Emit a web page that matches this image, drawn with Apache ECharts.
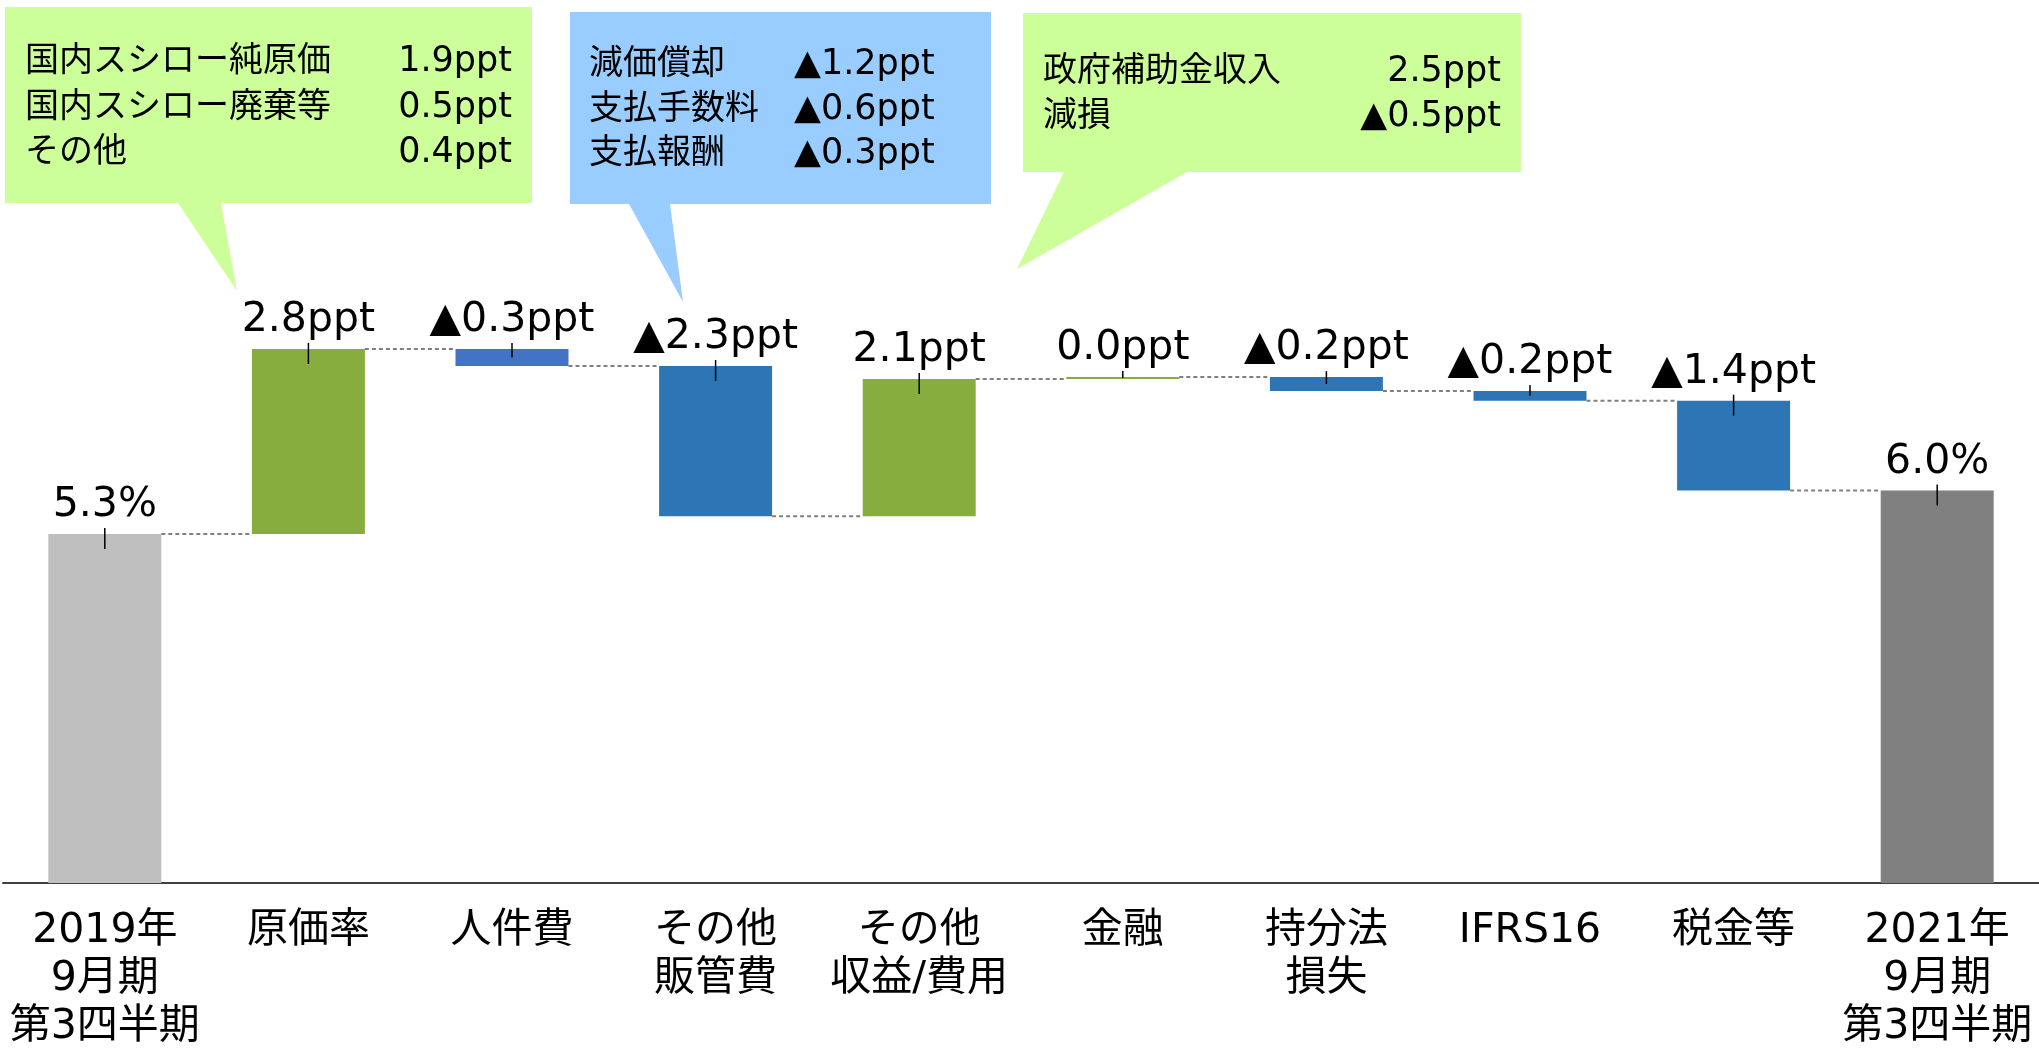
<!DOCTYPE html>
<html>
<head>
<meta charset="utf-8">
<script src="https://cdn.jsdelivr.net/npm/echarts@6.0.0/dist/echarts.min.js"></script>
<style>
    html, body { margin: 0; padding: 0; background: #ffffff; }
    #waterfall-chart { width: 2039px; height: 1051px; }
</style>
</head>
<body>
<div id="waterfall-chart"></div>
<script>
// Categories (x axis)
var categories = [
    '2019年\n9月期\n第3四半期', '原価率', '人件費', 'その他\n販管費', 'その他\n収益/費用',
    '金融', '持分法\n損失', 'IFRS16', '税金等', '2021年\n9月期\n第3四半期'
];

// Start / end totals and the steps in between (ppt)
var startValue = 5.32;
var deltas = [2.82, -0.26, -2.29, 2.09, 0.03, -0.21, -0.15, -1.37];
var endValue = 5.98;

// Labels printed above the bars
var valueLabels = ['5.3%', '2.8ppt', '▲0.3ppt', '▲2.3ppt', '2.1ppt', '0.0ppt', '▲0.2ppt', '▲0.2ppt', '▲1.4ppt', '6.0%'];

// Bar colours
var barColors = ['#bfbfbf', '#87ad3f', '#4472c4', '#2e75b6', '#87ad3f', '#87ad3f', '#2e75b6', '#2e75b6', '#2e75b6', '#808080'];

// Callout texts
var calloutCost = [['国内スシロー純原価', '1.9ppt'], ['国内スシロー廃棄等', '0.5ppt'], ['その他', '0.4ppt']];
var calloutSga = [['減価償却', '▲1.2ppt'], ['支払手数料', '▲0.6ppt'], ['支払報酬', '▲0.3ppt']];
var calloutOther = [['政府補助金収入', '2.5ppt'], ['減損', '▲0.5ppt']];

var FONT = '"DejaVu Sans", "Noto Sans CJK JP", sans-serif';
var BAR_RATIO = 0.555;

// Build the invisible base + visible part of each bar
var baseData = [];
var barData = [];
var levels = []; // running level after each bar
var running = startValue;
baseData.push(0);
barData.push({ value: startValue, itemStyle: { color: barColors[0] } });
levels.push(startValue);
deltas.forEach(function (d, i) {
    var before = running;
    running = running + d;
    baseData.push(Math.min(before, running));
    barData.push({ value: Math.abs(d), itemStyle: { color: barColors[i + 1] } });
    levels.push(running);
});
baseData.push(0);
barData.push({ value: endValue, itemStyle: { color: barColors[9] } });
levels.push(endValue);

// connectors: from bar i to bar i+1 at the level after bar i
var connectorData = [];
for (var i = 0; i < categories.length - 1; i++) {
    connectorData.push([i, levels[i]]);
}

// leader ticks: [index, top, bottom]
var tickData = baseData.map(function (b, i) {
    return [i, b + barData[i].value, b];
});

// Callout shapes + text
function callout(points, fill, lines, textX, valueX, valueAlign, lineY) {
    var els = [{
        type: 'polygon',
        shape: { points: points },
        style: { fill: fill },
        silent: true
    }];
    lines.forEach(function (ln, k) {
        els.push({
            type: 'text', x: textX, y: lineY[k], silent: true,
            style: { text: ln[0], font: '34px ' + FONT, fill: '#000', textAlign: 'left', textVerticalAlign: 'middle' }
        });
        els.push({
            type: 'text', x: valueX, y: lineY[k], silent: true,
            style: { text: ln[1], font: '35px ' + FONT, fill: '#000', textAlign: valueAlign, textVerticalAlign: 'middle' }
        });
    });
    return els;
}

var graphics = []
    .concat(callout([[5, 7], [532, 7], [532, 203], [221, 203], [237, 291], [178, 203], [5, 203]],
        '#ccff99', calloutCost, 25, 512, 'right', [62, 108, 153]))
    .concat(callout([[570, 12], [991, 12], [991, 204], [670, 204], [683, 302], [629, 204], [570, 204]],
        '#99ccff', calloutSga, 589, 794, 'left', [65, 110, 154]))
    .concat(callout([[1023, 13], [1521, 13], [1521, 172], [1187, 172], [1017, 269], [1064, 172], [1023, 172]],
        '#ccff99', calloutOther, 1043, 1501, 'right', [72, 117]));

var chart = echarts.init(document.getElementById('waterfall-chart'));

var option = {
    backgroundColor: '#ffffff',
    animation: false,
    textStyle: { fontFamily: FONT },
    grid: { left: 3, right: 0, top: 30, bottom: 168 },
    xAxis: {
        type: 'category',
        data: categories,
        axisLine: { lineStyle: { color: '#404040', width: 2 } },
        axisTick: { show: false },
        axisLabel: {
            interval: 0,
            margin: 24,
            fontSize: 41,
            lineHeight: 48,
            color: '#000',
            fontFamily: FONT,
            align: 'center'
        }
    },
    yAxis: {
        type: 'value',
        min: 0,
        max: 13,
        show: false,
        splitLine: { show: false }
    },
    graphic: graphics,
    series: [
        {
            name: 'base',
            type: 'bar',
            stack: 'wf',
            barWidth: (BAR_RATIO * 100) + '%',
            itemStyle: { color: 'transparent' },
            silent: true,
            data: baseData
        },
        {
            name: 'value',
            type: 'bar',
            stack: 'wf',
            barWidth: (BAR_RATIO * 100) + '%',
            data: barData,
            label: {
                show: true,
                position: 'top',
                distance: 8,
                fontSize: 41,
                color: '#000',
                fontFamily: FONT,
                formatter: function (p) {
                    return valueLabels[p.dataIndex];
                }
            }
        },
        {
            name: 'connectors',
            type: 'custom',
            silent: true,
            z: 5,
            data: connectorData,
            renderItem: function (params, api) {
                var p0 = api.coord([api.value(0), api.value(1)]);
                var p1 = api.coord([api.value(0) + 1, api.value(1)]);
                var half = api.size([1, 0])[0] * BAR_RATIO / 2;
                return {
                    type: 'line',
                    shape: { x1: p0[0] + half, y1: p0[1], x2: p1[0] - half, y2: p1[1] },
                    style: { stroke: '#808080', lineWidth: 2, lineDash: [4, 3] }
                };
            }
        },
        {
            name: 'ticks',
            type: 'custom',
            silent: true,
            z: 10,
            clip: false,
            data: tickData,
            renderItem: function (params, api) {
                var top = api.coord([api.value(0), api.value(1)]);
                var bottom = api.coord([api.value(0), api.value(2)]);
                var inside = Math.min(15, (bottom[1] - top[1]) / 2);
                return {
                    type: 'line',
                    z2: 100,
                    shape: { x1: top[0], y1: top[1] - 6, x2: top[0], y2: top[1] + inside },
                    style: { stroke: '#000000', lineWidth: 1.5 }
                };
            }
        }
    ]
};

chart.setOption(option);
</script>
</body>
</html>
